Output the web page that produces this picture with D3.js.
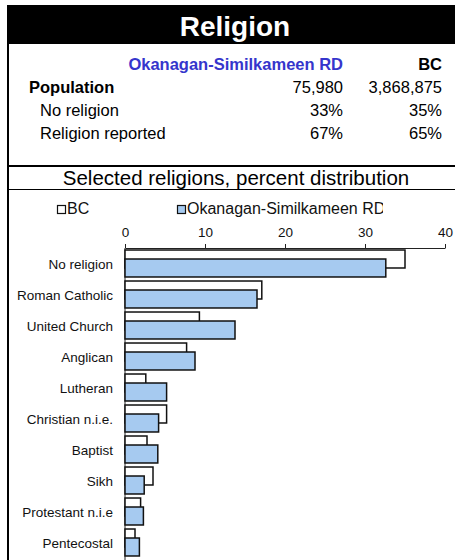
<!DOCTYPE html>
<html>
<head>
<meta charset="utf-8">
<script src="https://cdn.jsdelivr.net/npm/d3@7"></script>
<style>
  body { margin: 0; background: #fff; }
  svg { display: block; font-family: "Liberation Sans", Arial, sans-serif; }
</style>
</head>
<body>
<script>
const regionName = "Okanagan-Similkameen RD";
const provName = "BC";
const tableRows = ["Population", "No religion", "Religion reported"];
const regionTable = ["75,980", "33%", "67%"];
const provTable = ["3,868,875", "35%", "65%"];

const religions = [
  "No religion",
  "Roman Catholic",
  "United Church",
  "Anglican",
  "Lutheran",
  "Christian n.i.e.",
  "Baptist",
  "Sikh",
  "Protestant n.i.e",
  "Pentecostal"
];
const bcValues = [35.0, 17.1, 9.3, 7.7, 2.6, 5.2, 2.75, 3.5, 1.95, 1.25];
const regionValues = [32.6, 16.5, 13.75, 8.75, 5.2, 4.2, 4.1, 2.4, 2.3, 1.8];
const xTicks = [0, 10, 20, 30, 40];

const width = 455,
  height = 560;

let svg = d3
  .select("body")
  .append("svg")
  .attr("width", width)
  .attr("height", height);

// header band
svg.append("rect")
  .attr("x", 7)
  .attr("y", 5)
  .attr("width", width - 7)
  .attr("height", 39)
  .attr("fill", "#000");

svg.append("text")
  .attr("x", 235)
  .attr("y", 36)
  .attr("text-anchor", "middle")
  .attr("fill", "#fff")
  .style("font-size", "28px")
  .style("font-weight", "bold")
  .text("Religion");

// left border
svg.append("line")
  .attr("x1", 8).attr("x2", 8)
  .attr("y1", 44).attr("y2", height)
  .attr("stroke", "#000")
  .attr("stroke-width", 2);

// summary table
let table = svg.append("g").style("font-size", "16.5px");

table.append("text")
  .attr("x", 343).attr("y", 70)
  .attr("text-anchor", "end")
  .attr("fill", "#3535cc")
  .style("font-weight", "bold")
  .text(regionName);

table.append("text")
  .attr("x", 442).attr("y", 70)
  .attr("text-anchor", "end")
  .style("font-weight", "bold")
  .text(provName);

let rows = table.selectAll(".row")
  .data(tableRows)
  .enter()
  .append("g")
  .attr("class", "row")
  .attr("transform", function(d, i) {
    return "translate(0," + (93 + i * 23) + ")";
  });

rows.append("text")
  .attr("x", function(d, i) { return i == 0 ? 29 : 40; })
  .style("font-weight", function(d, i) { return i == 0 ? "bold" : "normal"; })
  .text(function(d) { return d; });

rows.append("text")
  .attr("x", 343)
  .attr("text-anchor", "end")
  .text(function(d, i) { return regionTable[i]; });

rows.append("text")
  .attr("x", 442)
  .attr("text-anchor", "end")
  .text(function(d, i) { return provTable[i]; });

// separators
svg.append("line")
  .attr("x1", 8).attr("x2", width)
  .attr("y1", 166).attr("y2", 166)
  .attr("stroke", "#000")
  .attr("stroke-width", 2);

svg.append("line")
  .attr("x1", 8).attr("x2", width)
  .attr("y1", 189.5).attr("y2", 189.5)
  .attr("stroke", "#000")
  .attr("stroke-width", 1);

svg.append("text")
  .attr("x", 236)
  .attr("y", 185)
  .attr("text-anchor", "middle")
  .style("font-size", "20.5px")
  .text("Selected religions, percent distribution");

// chart
let x = d3.scaleLinear()
  .domain([0, 40])
  .range([125, 445]);

let y = d3.scaleBand()
  .domain(religions)
  .range([248, 558])
  .paddingInner(0.13)
  .paddingOuter(0.065);

let barH = y.bandwidth() * 2 / 3;

svg.append("g")
  .attr("transform", "translate(0,248)")
  .call(d3.axisTop(x)
    .tickValues(xTicks)
    .tickSize(4)
    .tickSizeOuter(0)
    .tickPadding(7))
  .call(function(g) {
    g.selectAll("text")
      .style("font-size", "13.5px")
      .style("font-family", "'Liberation Sans', Arial, sans-serif")
      .attr("fill", "#111");
    g.selectAll("line, path").attr("stroke", "#222");
  });

svg.append("g")
  .attr("transform", "translate(125,0)")
  .call(d3.axisLeft(y)
    .tickSize(0)
    .tickPadding(12))
  .call(function(g) {
    g.select(".domain").attr("d", "M0,248V" + height);
    g.selectAll("text")
      .style("font-size", "13.5px")
      .style("font-family", "'Liberation Sans', Arial, sans-serif")
      .attr("fill", "#111")
      .attr("dy", "0.4em");
    g.selectAll("path").attr("stroke", "#222");
  });

// BC bars first, region bars overlap them
svg.append("g")
  .selectAll("rect")
  .data(religions)
  .enter()
  .append("rect")
  .attr("x", x(0))
  .attr("y", function(d) { return y(d); })
  .attr("width", function(d, i) { return x(bcValues[i]) - x(0); })
  .attr("height", barH)
  .attr("fill", "#fff")
  .attr("stroke", "#111")
  .attr("stroke-width", 1.5);

svg.append("g")
  .selectAll("rect")
  .data(religions)
  .enter()
  .append("rect")
  .attr("x", x(0))
  .attr("y", function(d) { return y(d) + y.bandwidth() / 3; })
  .attr("width", function(d, i) { return x(regionValues[i]) - x(0); })
  .attr("height", barH)
  .attr("fill", "#a6caf0")
  .attr("stroke", "#111")
  .attr("stroke-width", 1.5);

// legend (clipped on the right like the original)
svg.append("clipPath")
  .attr("id", "legend-clip")
  .append("rect")
  .attr("x", 0).attr("y", 190)
  .attr("width", 383).attr("height", 30);

let legendItems = [
  { name: provName, fill: "#fff", x: 57 },
  { name: regionName, fill: "#a6caf0", x: 177 }
];

let legend = svg.append("g")
  .attr("clip-path", "url(#legend-clip)")
  .selectAll(".legend")
  .data(legendItems)
  .enter()
  .append("g")
  .attr("class", "legend")
  .attr("transform", function(d) {
    return "translate(" + d.x + ",205)";
  });

legend.append("rect")
  .attr("x", 0.5).attr("y", 0.5)
  .attr("width", 8).attr("height", 8)
  .attr("fill", function(d) { return d.fill; })
  .attr("stroke", "#111")
  .attr("stroke-width", 1.2);

legend.append("text")
  .attr("x", 10)
  .attr("y", 9)
  .style("font-size", "16px")
  .attr("fill", "#111")
  .text(function(d) { return d.name; });
</script>
</body>
</html>
